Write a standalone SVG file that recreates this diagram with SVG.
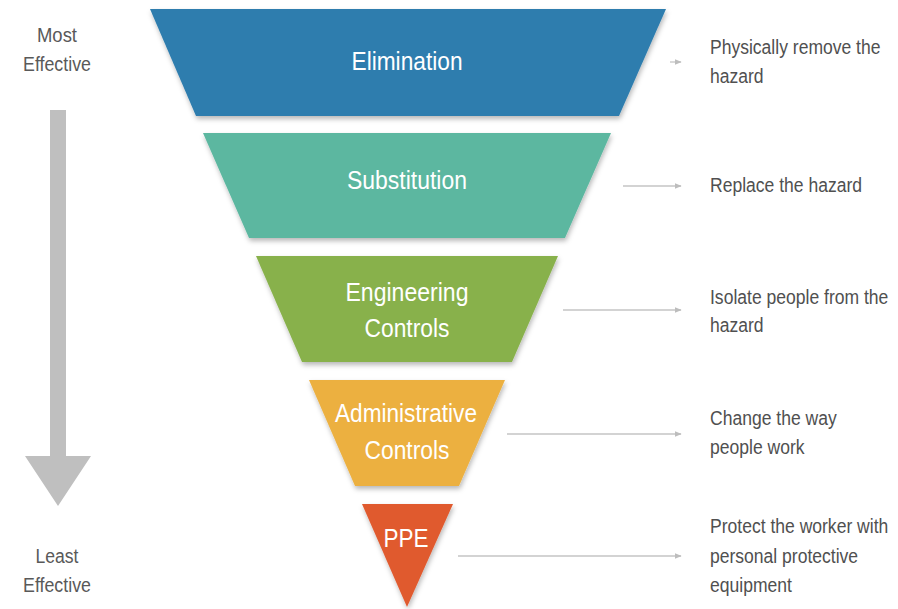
<svg xmlns="http://www.w3.org/2000/svg" width="898" height="609" viewBox="0 0 898 609">
<defs>
<filter id="sh" x="-10%" y="-10%" width="120%" height="130%">
<feDropShadow dx="1" dy="3" stdDeviation="2.5" flood-color="#000" flood-opacity="0.28"/>
</filter>
<marker id="ah" viewBox="0 0 10 10" refX="9" refY="5" markerWidth="7" markerHeight="7" markerUnits="userSpaceOnUse" orient="auto">
<path d="M0,1 L10,5 L0,9 Z" fill="#bdbdbd"/>
</marker>
<style>
.lbl{font-family:"Liberation Sans",Arial,sans-serif;font-size:26px;fill:#fff;text-anchor:middle}
.desc{font-family:"Liberation Sans",Arial,sans-serif;font-size:20px;fill:#505050}
.side{font-family:"Liberation Sans",Arial,sans-serif;font-size:20px;fill:#595959;text-anchor:middle}
.conn{stroke:#c4c4c4;stroke-width:1.3;fill:none;marker-end:url(#ah)}
</style>
</defs>
<rect width="898" height="609" fill="#fff"/>

<g id="effectiveness">
<text class="side" x="57" y="42" textLength="40" lengthAdjust="spacingAndGlyphs">Most</text>
<text class="side" x="57" y="71" textLength="68" lengthAdjust="spacingAndGlyphs">Effective</text>
<path d="M50,110 H66 V456 H91 L58,506 L25,456 H50 Z" fill="#bfbfbf"/>
<text class="side" x="57" y="563" textLength="43" lengthAdjust="spacingAndGlyphs">Least</text>
<text class="side" x="57" y="592" textLength="68" lengthAdjust="spacingAndGlyphs">Effective</text>
</g>

<g id="elimination">
<polygon points="150,9 666,9 619,116 196,116" fill="#2e7dae" filter="url(#sh)"/>
<text class="lbl" x="407" y="70" textLength="111" lengthAdjust="spacingAndGlyphs">Elimination</text>
</g>
<g id="substitution">
<polygon points="203,133 611,133 565,238 249,238" fill="#5cb7a0" filter="url(#sh)"/>
<text class="lbl" x="407" y="189" textLength="120" lengthAdjust="spacingAndGlyphs">Substitution</text>
</g>
<g id="engineering">
<polygon points="256,256 558,256 512,362 302,362" fill="#88b14b" filter="url(#sh)"/>
<text class="lbl" x="407" y="301" textLength="123" lengthAdjust="spacingAndGlyphs">Engineering</text>
<text class="lbl" x="407" y="337" textLength="85" lengthAdjust="spacingAndGlyphs">Controls</text>
</g>
<g id="administrative">
<polygon points="309,380 505,380 459,486 355,486" fill="#ecb041" filter="url(#sh)"/>
<text class="lbl" x="406" y="422" textLength="142" lengthAdjust="spacingAndGlyphs">Administrative</text>
<text class="lbl" x="407" y="459" textLength="85" lengthAdjust="spacingAndGlyphs">Controls</text>
</g>
<g id="ppe">
<polygon points="362,504 453,504 407,607" fill="#e05a2f" filter="url(#sh)"/>
<text class="lbl" x="406" y="547" textLength="45" lengthAdjust="spacingAndGlyphs">PPE</text>
</g>

<g id="connectors">
<line class="conn" x1="670" y1="62" x2="681" y2="62"/>
<line class="conn" x1="623" y1="186" x2="681" y2="186"/>
<line class="conn" x1="563" y1="310" x2="681" y2="310"/>
<line class="conn" x1="507" y1="434" x2="681" y2="434"/>
<line class="conn" x1="458" y1="556" x2="681" y2="556"/>
</g>

<g id="descriptions" transform="translate(710,0) scale(0.877,1)">
<text class="desc" x="0" y="54">Physically remove the</text>
<text class="desc" x="0" y="83">hazard</text>
<text class="desc" x="0" y="192">Replace the hazard</text>
<text class="desc" x="0" y="304">Isolate people from the</text>
<text class="desc" x="0" y="332">hazard</text>
<text class="desc" x="0" y="425">Change the way</text>
<text class="desc" x="0" y="454">people work</text>
<text class="desc" x="0" y="533">Protect the worker with</text>
<text class="desc" x="0" y="563">personal protective</text>
<text class="desc" x="0" y="592">equipment</text>
</g>
</svg>
